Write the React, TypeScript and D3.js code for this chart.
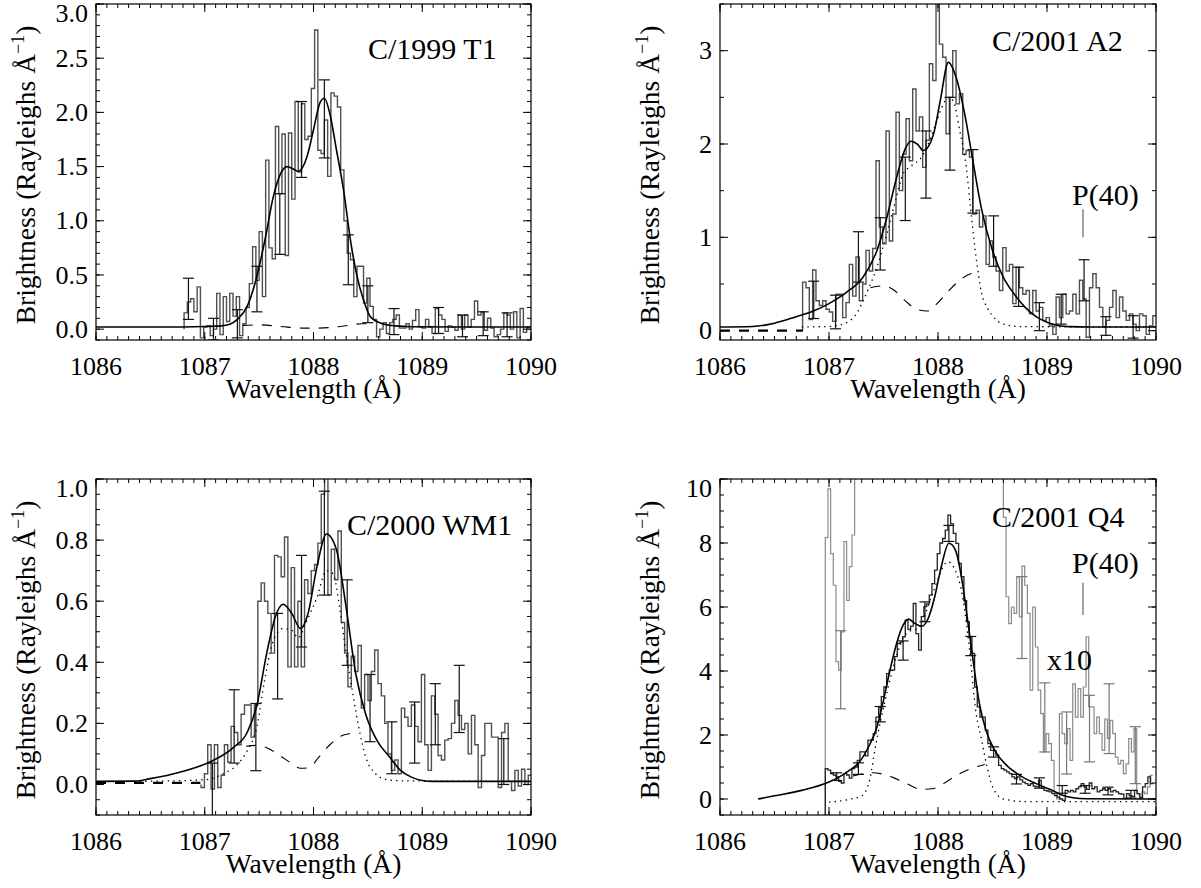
import React from "react";
import * as d3 from "d3";

const FONT = "Liberation Serif, Times New Roman, DejaVu Serif, serif";

// ---------- C/1999 T1 ----------
const t1Start = 1086.81;
const t1Bin = 0.03;
const t1Flux = [
  0.15, 0.25, 0.28, 0.16, 0.39, -0.08, 0.02, 0.03, -0.06, 0.0,
  0.33, -0.05, 0.3, 0.07, 0.33, 0.12, 0.3, -0.06, 0.05, 0.2,
  0.42, 0.76, 0.45, 0.9, 0.3, 1.56, 0.75, 0.65, 1.87, 1.25,
  1.8, 0.68, 1.81, 1.2, 2.1, 1.45, 2.08, 1.75, 1.78, 2.22,
  2.76, 1.65, 1.62, 1.93, 1.41, 2.18, 2.15, 2.05, 1.47, 1.0,
  0.7, 0.64, 0.3, 0.58, 0.58, 0.24, 0.47, 0.21, 0.09, -0.07,
  0.0, 0.06, -0.04, 0.06, 0.09, 0.13, 0.01, 0.01, 0.05, 0.0,
  0.08, 0.18, 0.02, 0.01, 0.09, 0.02, -0.04, 0.19, 0.13, 0.09,
  -0.02, 0.03, 0.02, -0.01, 0.13, 0.0, 0.13, 0.02, 0.09, 0.26,
  0.13, 0.16, -0.01, 0.1, 0.01, -0.07, -0.05, 0.0, 0.15, 0.13,
  0.0, 0.16, -0.08, 0.19, -0.03, 0.02,
];
const t1FitX = [1086.0, 1086.6, 1087.0, 1087.15, 1087.23, 1087.3, 1087.39, 1087.48, 1087.56, 1087.63, 1087.7, 1087.754, 1087.81, 1087.86, 1087.94, 1088.0, 1088.06, 1088.1, 1088.15, 1088.21, 1088.28, 1088.34, 1088.4, 1088.46, 1088.52, 1088.62, 1088.75, 1088.9, 1089.3, 1090.0];
const t1FitY = [0.02, 0.02, 0.025, 0.03, 0.045, 0.09, 0.21, 0.49, 0.855, 1.22, 1.44, 1.5, 1.48, 1.455, 1.59, 1.84, 2.09, 2.13, 1.99, 1.66, 1.26, 0.82, 0.49, 0.27, 0.12, 0.055, 0.03, 0.022, 0.02, 0.02];
const t1DashX = [1087.35, 1087.5, 1087.7, 1087.9, 1088.05, 1088.25, 1088.45, 1088.55];
const t1DashY = [0.035, 0.04, 0.025, 0.01, 0.01, 0.025, 0.05, 0.05];
const t1ErrX = [1086.85, 1087.08, 1087.3, 1087.48, 1087.69, 1087.89, 1088.1, 1088.32, 1088.5, 1088.74, 1089.15, 1089.37, 1089.56, 1089.78];
const t1ErrY = [0.28, 0.0, 0.05, 0.37, 0.97, 1.75, 1.94, 0.64, 0.23, 0.07, 0.08, 0.03, 0.05, 0.04];
const t1ErrE = [0.19, 0.1, 0.13, 0.21, 0.28, 0.35, 0.36, 0.23, 0.17, 0.12, 0.12, 0.1, 0.11, 0.11];

// ---------- C/2001 A2 ----------
const a2Start = 1086.758;
const a2Bin = 0.0306;
const a2Flux = [
  0.52, 0.46, 0.12, 0.65, 0.32, 0.27, 0.32, 0.23, 0.2, 0.1,
  0.39, 0.39, 0.14, 0.3, 0.71, 0.37, 0.79, 0.32, 0.5, 0.86,
  0.64, 0.88, 1.82, 1.11, 0.93, 2.14, 0.96, 1.25, 2.34, 1.5,
  1.89, 2.27, 1.82, 2.59, 2.14, 2.29, 1.75, 2.04, 2.86, 2.68,
  3.6, 3.07, 2.93, 2.11, 2.5, 3.0, 2.43, 2.54, 1.89, 1.93,
  1.86, 1.25, 1.29, 1.11, 1.23, 0.71, 0.96, 0.79, 0.64, 0.43,
  0.89, 0.64, 0.71, 0.29, 0.68, 0.46, 0.39, 0.43, 0.18, 0.43,
  0.21, 0.25, 0.11, 0.14, 0.05, -0.04, 0.36, 0.14, 0.39, 0.18,
  0.21, 0.39, 0.18, 0.54, 0.34, -0.07, 0.46, 0.61, 0.46, 0.25,
  0.04, 0.11, 0.25, 0.43, 0.14, 0.36, 0.21, 0.11, 0.18, 0.07,
  0.0, 0.18, 0.16, -0.04, 0.05, 0.16,
];
const a2FitX = [1086.0, 1086.3, 1086.5, 1086.7, 1086.856, 1087.0, 1087.16, 1087.31, 1087.44, 1087.53, 1087.62, 1087.7, 1087.75, 1087.81, 1087.865, 1087.96, 1088.02, 1088.095, 1088.17, 1088.25, 1088.32, 1088.4, 1088.5, 1088.6, 1088.7, 1088.8, 1088.9, 1089.0, 1089.1, 1089.2, 1089.4, 1090.0];
const a2FitY = [0.04, 0.045, 0.08, 0.15, 0.21, 0.29, 0.41, 0.57, 0.86, 1.21, 1.64, 1.95, 2.03, 2.0, 1.93, 2.11, 2.46, 2.875, 2.7, 2.29, 1.82, 1.3, 0.86, 0.57, 0.39, 0.25, 0.15, 0.09, 0.055, 0.043, 0.04, 0.04];
const a2DotX = [1086.75, 1087.0, 1087.15, 1087.25, 1087.34, 1087.44, 1087.53, 1087.61, 1087.68, 1087.76, 1087.85, 1087.91, 1087.99, 1088.05, 1088.095, 1088.14, 1088.2, 1088.26, 1088.3, 1088.35, 1088.4, 1088.45, 1088.5, 1088.6, 1088.78, 1090.0];
const a2DotY = [0.04, 0.045, 0.08, 0.18, 0.39, 0.68, 1.04, 1.39, 1.68, 1.77, 1.86, 2.0, 2.25, 2.43, 2.5, 2.46, 2.14, 1.75, 1.3, 0.78, 0.4, 0.25, 0.16, 0.07, 0.043, 0.04];
const a2DashX = [1087.38, 1087.5, 1087.6, 1087.7, 1087.8, 1087.9, 1088.0, 1088.1, 1088.2, 1088.3, 1088.36];
const a2DashY = [0.46, 0.48, 0.43, 0.32, 0.23, 0.21, 0.3, 0.43, 0.54, 0.61, 0.62];
const a2BaseX = [1086.0, 1086.76];
const a2BaseY = [0.0, 0.0];
const a2ErrX = [1086.86, 1087.06, 1087.27, 1087.47, 1087.7, 1087.89, 1088.11, 1088.32, 1088.51, 1088.74, 1088.93, 1089.13, 1089.34, 1089.54, 1089.79];
const a2ErrY = [0.33, 0.2, 0.79, 0.93, 1.52, 1.78, 2.11, 1.6, 0.96, 0.47, 0.15, 0.23, 0.54, 0.05, 0.04];
const a2ErrE = [0.2, 0.18, 0.27, 0.28, 0.34, 0.36, 0.39, 0.34, 0.27, 0.21, 0.15, 0.16, 0.22, 0.1, 0.12];

// ---------- C/2000 WM1 ----------
const wmStart = 1086.966;
const wmBin = 0.0307;
const wmFlux = [
  -0.01, 0.035, 0.13, -0.015, 0.13, -0.01, 0.03, 0.13, 0.073, 0.19,
  0.17, 0.13, 0.23, 0.26, 0.26, 0.155, 0.26, 0.6, 0.66, 0.6,
  0.56, 0.43, 0.75, 0.745, 0.68, 0.81, 0.385, 0.71, 0.385, 0.6,
  0.385, 0.67, 0.625, 0.7, 0.72, 0.79, 0.95, 1.05, 0.62, 0.77,
  0.67, 0.83, 0.53, 0.43, 0.32, 0.42, 0.37, 0.455, 0.25, 0.36,
  0.275, 0.37, 0.44, 0.33, 0.29, 0.2, 0.1, 0.046, 0.08, 0.035,
  0.25, 0.22, 0.19, 0.26, 0.19, 0.14, 0.36, 0.13, 0.046, 0.29,
  0.23, 0.095, 0.08, 0.145, 0.15, 0.2, 0.275, 0.226, 0.18, 0.2,
  0.1, 0.226, 0.13, -0.01, 0.095, 0.2, 0.2, 0.155, 0.155, -0.01,
  0.17, 0.2, 0.01, -0.02, 0.046, -0.005, 0.05, 0.0, 0.03,
];
const wmFitX = [1086.0, 1086.36, 1086.5, 1086.77, 1087.08, 1087.26, 1087.39, 1087.48, 1087.57, 1087.65, 1087.72, 1087.8, 1087.88, 1087.95, 1088.03, 1088.12, 1088.21, 1088.3, 1088.39, 1088.48, 1088.59, 1088.7, 1088.8, 1088.9, 1089.0, 1089.1, 1090.0];
const wmFitY = [0.01, 0.011, 0.019, 0.04, 0.079, 0.12, 0.17, 0.26, 0.43, 0.55, 0.59, 0.56, 0.51, 0.56, 0.71, 0.82, 0.77, 0.58, 0.36, 0.23, 0.14, 0.09, 0.046, 0.024, 0.013, 0.01, 0.01];
const wmDotX = [1086.35, 1087.0, 1087.17, 1087.29, 1087.39, 1087.48, 1087.55, 1087.63, 1087.72, 1087.8, 1087.86, 1087.93, 1088.03, 1088.12, 1088.18, 1088.24, 1088.3, 1088.36, 1088.42, 1088.48, 1088.57, 1088.65, 1088.8, 1090.0];
const wmDotY = [0.01, 0.015, 0.035, 0.062, 0.11, 0.19, 0.34, 0.47, 0.51, 0.505, 0.48, 0.53, 0.61, 0.7, 0.69, 0.58, 0.43, 0.3, 0.18, 0.09, 0.035, 0.018, 0.012, 0.01];
const wmDashX = [1087.38, 1087.47, 1087.57, 1087.69, 1087.78, 1087.88, 1087.96, 1088.05, 1088.15, 1088.25, 1088.33, 1088.4];
const wmDashY = [0.125, 0.128, 0.12, 0.095, 0.073, 0.053, 0.055, 0.09, 0.13, 0.158, 0.166, 0.168];
const wmBaseX = [1086.0, 1086.96];
const wmBaseY = [0.005, 0.005];
const wmErrX = [1087.07, 1087.27, 1087.47, 1087.67, 1087.89, 1088.1, 1088.31, 1088.52, 1088.72, 1088.93, 1089.12, 1089.34, 1089.75];
const wmErrY = [-0.03, 0.19, 0.155, 0.42, 0.6, 0.79, 0.53, 0.25, 0.12, 0.17, 0.23, 0.28, 0.075];
const wmErrE = [0.1, 0.12, 0.11, 0.14, 0.15, 0.17, 0.14, 0.11, 0.085, 0.1, 0.1, 0.11, 0.075];

// ---------- C/2001 Q4 ----------
const q4Start = 1086.966;
const q4Bin = 0.02446;
const q4Flux = [
  0.95, 0.9, 0.79, 0.75, 0.69, 0.55, 0.5, 0.79, 0.75, 0.65,
  0.95, 1.0, 1.21, 1.47, 1.47, 1.35, 1.84, 1.84, 2.04, 2.56,
  2.88, 3.2, 3.5, 3.92, 4.03, 4.03, 4.45, 4.86, 4.9, 5.07,
  5.59, 5.3, 5.4, 6.11, 5.17, 4.65, 5.7, 6.01, 6.1, 6.37,
  6.73, 7.15, 7.67, 8.0, 8.14, 8.4, 8.87, 8.6, 8.3, 7.99,
  7.36, 6.95, 6.2, 5.54, 5.07, 4.55, 3.5,
  2.88, 2.56, 2.56, 2.15, 1.73, 1.52, 1.52, 1.37, 1.05, 0.95,
  0.9, 0.85, 0.79, 0.69, 0.64, 0.69, 0.6, 0.53, 0.48, 0.43,
  0.48, 0.4, 0.38, 0.58, 0.33, 0.27, 0.25, 0.22, 0.17, 0.11,
  0.06, 0.0, -0.04, 0.27, 0.22, 0.27, 0.22, 0.32, 0.38, 0.48,
  0.38, 0.3, 0.5, 0.32, 0.38, 0.22, 0.27, 0.32, 0.27, 0.32,
  0.22, 0.27, 0.22, 0.17, 0.15, 0.01, 0.17, 0.1, 0.08, 0.27,
  0.17, 0.05, 0.38, 0.48, 0.69, 0.48,
];
// the x10 trace, left and right of the off-scale core
const q4x10LeftStart = 1086.966;
const q4x10Left = [8.17, 9.69, 7.67, 6.68, 4.29, 4.03, 5.22, 8.04, 6.21, 7.26, 8.25];
const q4x10RightStart = 1088.6;
const q4x10Right = [
  8.8, 6.32, 5.48, 6.0, 5.8, 6.94, 5.69, 7.28, 6.68, 5.8,
  3.4, 6.0, 4.75, 3.4, 2.67, 1.47, 2.04, 1.73, 1.21, 0.17,
  0.0, 2.67, 2.04, 1.73, 2.2, 1.21, 3.6, 2.56, 3.45, 2.56,
  3.5, 5.07, 2.88, 2.88, 2.04, 2.56, 2.04, 1.52, 2.5, 1.89,
  2.46, 2.04, 1.31, 1.1, 1.21, 0.79, 1.1, 1.89, 1.47, 2.2,
  0.17, 0.0, 0.22, 0.17, 0.38, 0.74,
];
const q4x10ErrX = [1087.107, 1088.77, 1088.98, 1089.18, 1089.39, 1089.57, 1089.81];
const q4x10ErrY = [4.04, 5.67, 2.55, 1.75, 2.2, 2.51, 1.37];
const q4x10ErrE = [1.22, 1.28, 1.08, 0.97, 1.04, 1.09, 0.89];
const q4FitX = [1086.35, 1086.5, 1086.75, 1087.0, 1087.1, 1087.19, 1087.28, 1087.37, 1087.44, 1087.5, 1087.56, 1087.62, 1087.68, 1087.73, 1087.79, 1087.85, 1087.91, 1087.97, 1088.03, 1088.1, 1088.16, 1088.22, 1088.28, 1088.33, 1088.38, 1088.44, 1088.52, 1088.63, 1088.75, 1088.9, 1089.06, 1089.15, 1089.24, 1089.36, 1090.0];
const q4FitY = [0.0, 0.1, 0.27, 0.53, 0.7, 0.9, 1.16, 1.68, 2.25, 3.09, 4.03, 4.86, 5.43, 5.62, 5.48, 5.4, 5.64, 6.32, 7.26, 7.99, 7.78, 6.84, 5.38, 4.13, 2.98, 2.15, 1.52, 1.05, 0.74, 0.48, 0.25, 0.11, 0.04, 0.01, 0.0];
const q4DotX = [1087.0, 1087.2, 1087.3, 1087.376, 1087.42, 1087.53, 1087.59, 1087.71, 1087.83, 1087.95, 1088.09, 1088.2, 1088.28, 1088.35, 1088.4, 1088.45, 1088.5, 1088.6, 1088.8, 1090.0];
const q4DotY = [-0.1, 0.0, 0.1, 0.64, 1.52, 3.3, 4.13, 5.17, 5.38, 6.42, 7.41, 6.74, 4.96, 2.67, 1.84, 1.0, 0.38, 0.0, -0.08, -0.08];
const q4DashX = [1087.22, 1087.3, 1087.4, 1087.55, 1087.7, 1087.85, 1087.95, 1088.05, 1088.15, 1088.3, 1088.43];
const q4DashY = [0.72, 0.78, 0.82, 0.72, 0.5, 0.3, 0.32, 0.48, 0.7, 0.95, 1.08];
const q4ErrX = [1087.07, 1087.27, 1087.47, 1087.68, 1087.88, 1088.1, 1088.3, 1088.51, 1088.72, 1088.93, 1089.14, 1089.35, 1089.56, 1089.77];
const q4ErrY = [0.7, 0.95, 2.65, 4.64, 5.85, 8.3, 4.78, 1.47, 0.62, 0.5, 0.3, 0.3, 0.25, 0.15];
const q4ErrE = [0.12, 0.18, 0.24, 0.3, 0.31, 0.25, 0.3, 0.16, 0.15, 0.16, 0.12, 0.12, 0.12, 0.12];

// P(40) line position
const p40Wave = 1089.33;

const xDomain = [1086, 1090];
const xLabels = [1086, 1087, 1088, 1089, 1090];

const zip = (xs, ys) => xs.map((v, i) => [v, ys[i]]);

function rangeStep(lo, hi, step) {
  const out = [];
  const a = Math.ceil(lo / step - 1e-6);
  const b = Math.floor(hi / step + 1e-6);
  for (let i = a; i <= b; i++) out.push(+(i * step).toFixed(6));
  return out;
}

function Panel(props) {
  const { id, box, yDom, yMajor, yMinor, fmt, children } = props;
  const x = d3.scaleLinear().domain(xDomain).range([box.l, box.r]);
  const y = d3.scaleLinear().domain(yDom).range([box.b, box.t]);
  const xMaj = rangeStep(1086, 1090, 1);
  const xMin = rangeStep(1086, 1090, 0.1);
  const yMaj = rangeStep(yDom[0], yDom[1], yMajor);
  const yMin = rangeStep(yDom[0], yDom[1], yMinor);
  const maj = 8;
  const mnr = 4;
  const cy = (box.t + box.b) / 2;
  return (
    <g>
      <defs>
        <clipPath id={`clip-${id}`}>
          <rect x={box.l} y={box.t} width={box.r - box.l} height={box.b - box.t} />
        </clipPath>
      </defs>
      <g clipPath={`url(#clip-${id})`}>{children(x, y)}</g>
      <rect x={box.l} y={box.t} width={box.r - box.l} height={box.b - box.t} fill="none" stroke="#000" strokeWidth={1.2} />
      <g stroke="#000" strokeWidth={1}>
        {xMin.map((v) => (
          <g key={`xm${v}`}>
            <line x1={x(v)} x2={x(v)} y1={box.b} y2={box.b - mnr} />
            <line x1={x(v)} x2={x(v)} y1={box.t} y2={box.t + mnr} />
          </g>
        ))}
        {xMaj.map((v) => (
          <g key={`xM${v}`}>
            <line x1={x(v)} x2={x(v)} y1={box.b} y2={box.b - maj} />
            <line x1={x(v)} x2={x(v)} y1={box.t} y2={box.t + maj} />
          </g>
        ))}
        {yMin.map((v) => (
          <g key={`ym${v}`}>
            <line x1={box.l} x2={box.l + mnr} y1={y(v)} y2={y(v)} />
            <line x1={box.r} x2={box.r - mnr} y1={y(v)} y2={y(v)} />
          </g>
        ))}
        {yMaj.map((v) => (
          <g key={`yM${v}`}>
            <line x1={box.l} x2={box.l + maj} y1={y(v)} y2={y(v)} />
            <line x1={box.r} x2={box.r - maj} y1={y(v)} y2={y(v)} />
          </g>
        ))}
      </g>
      <g style={{ fontFamily: FONT }} fontSize={26} fill="#000">
        {xLabels.map((v) => (
          <text key={`xl${v}`} x={x(v)} y={box.b + 35} textAnchor="middle">
            {v}
          </text>
        ))}
        {yMaj.map((v) => (
          <text
            key={`yl${v}`}
            x={box.l - 8}
            y={Math.max(y(v), box.t + 9)}
            dy="0.33em"
            textAnchor="end"
          >
            {fmt(v)}
          </text>
        ))}
        <text x={(box.l + box.r) / 2} y={box.b + 58} textAnchor="middle" fontSize={27.5}>
          Wavelength (Å)
        </text>
        <text transform={`translate(${box.l - 61},${cy + 3}) rotate(-90)`} textAnchor="middle" fontSize={27.5}>
          Brightness (Rayleighs Å
          <tspan dy={-11} fontSize={18}>−1</tspan>
          <tspan dy={11}>)</tspan>
        </text>
      </g>
    </g>
  );
}

function stepPath(x, y, start, bin, vals, lead, tail) {
  const pts = vals.map((v, i) => [start + i * bin, v]);
  const end = start + vals.length * bin;
  pts.push([end, vals[vals.length - 1]]);
  if (lead !== undefined) pts.unshift([start, lead]);
  if (tail !== undefined) pts.push([end, tail]);
  return d3
    .line()
    .x((d) => x(d[0]))
    .y((d) => y(d[1]))
    .curve(d3.curveStepAfter)(pts);
}

function smooth(x, y, xs, ys) {
  return d3
    .line()
    .x((d) => x(d[0]))
    .y((d) => y(d[1]))
    .curve(d3.curveMonotoneX)(zip(xs, ys));
}

function ErrorBars({ x, y, xs, ys, es, color }) {
  return (
    <g stroke={color} strokeWidth={1.2}>
      {xs.map((v, i) => {
        const px = x(v);
        const lo = y(ys[i] - es[i]);
        const hi = y(ys[i] + es[i]);
        return (
          <g key={i}>
            <line x1={px} x2={px} y1={lo} y2={hi} />
            <line x1={px - 5.5} x2={px + 5.5} y1={lo} y2={lo} />
            <line x1={px - 5.5} x2={px + 5.5} y1={hi} y2={hi} />
          </g>
        );
      })}
    </g>
  );
}

const HIST = "#505050";
const DOT = "1.4 4.2";
const DASH = "10 9";

export default function App() {
  const f1 = d3.format(".1f");
  const f0 = d3.format("d");
  return (
    <svg
      width={1201}
      height={888}
      style={{ position: "absolute", left: 0, top: 0, background: "#fff" }}
    >
      <rect width={1201} height={888} fill="#fff" />
      <Panel id="t1" box={{ l: 96, r: 531, t: 4, b: 340 }} yDom={[-0.1, 3.0]} yMajor={0.5} yMinor={0.1} fmt={f1}>
        {(x, y) => (
          <g fill="none">
            <path d={stepPath(x, y, t1Start, t1Bin, t1Flux, 0)} stroke={HIST} strokeWidth={1.4} />
            <ErrorBars x={x} y={y} xs={t1ErrX} ys={t1ErrY} es={t1ErrE} color="#111" />
            <path d={smooth(x, y, t1DashX, t1DashY)} stroke="#000" strokeWidth={1.1} strokeDasharray={DASH} />
            <path d={smooth(x, y, t1FitX, t1FitY)} stroke="#000" strokeWidth={1.6} />
          </g>
        )}
      </Panel>
      <Panel id="a2" box={{ l: 720, r: 1156, t: 4, b: 340 }} yDom={[-0.1, 3.5]} yMajor={1} yMinor={0.5} fmt={f0}>
        {(x, y) => (
          <g fill="none">
            <path d={stepPath(x, y, a2Start, a2Bin, a2Flux, 0)} stroke={HIST} strokeWidth={1.4} />
            <ErrorBars x={x} y={y} xs={a2ErrX} ys={a2ErrY} es={a2ErrE} color="#111" />
            <path d={smooth(x, y, a2BaseX, a2BaseY)} stroke="#000" strokeWidth={2.2} strokeDasharray={DASH} />
            <path d={smooth(x, y, a2DotX, a2DotY)} stroke="#000" strokeWidth={1.3} strokeDasharray={DOT} />
            <path d={smooth(x, y, a2DashX, a2DashY)} stroke="#000" strokeWidth={1.1} strokeDasharray={DASH} />
            <path d={smooth(x, y, a2FitX, a2FitY)} stroke="#000" strokeWidth={1.6} />
            <line x1={x(p40Wave)} x2={x(p40Wave)} y1={y(1.0)} y2={y(1.3)} stroke="#666" strokeWidth={1.2} />
          </g>
        )}
      </Panel>
      <Panel id="wm" box={{ l: 96, r: 531, t: 479, b: 815 }} yDom={[-0.1, 1.0]} yMajor={0.2} yMinor={0.05} fmt={f1}>
        {(x, y) => (
          <g fill="none">
            <path d={stepPath(x, y, wmStart, wmBin, wmFlux, 0)} stroke={HIST} strokeWidth={1.4} />
            <ErrorBars x={x} y={y} xs={wmErrX} ys={wmErrY} es={wmErrE} color="#111" />
            <path d={smooth(x, y, wmBaseX, wmBaseY)} stroke="#000" strokeWidth={2.2} strokeDasharray={DASH} />
            <path d={smooth(x, y, wmDotX, wmDotY)} stroke="#000" strokeWidth={1.3} strokeDasharray={DOT} />
            <path d={smooth(x, y, wmDashX, wmDashY)} stroke="#000" strokeWidth={1.1} strokeDasharray={DASH} />
            <path d={smooth(x, y, wmFitX, wmFitY)} stroke="#000" strokeWidth={1.6} />
          </g>
        )}
      </Panel>
      <Panel id="q4" box={{ l: 720, r: 1156, t: 479, b: 815 }} yDom={[-0.5, 10]} yMajor={2} yMinor={0.5} fmt={f0}>
        {(x, y) => (
          <g fill="none">
            <path d={stepPath(x, y, q4x10LeftStart, q4Bin, q4x10Left, -0.5, 10.5)} stroke="#8a8a8a" strokeWidth={1.2} />
            <path d={stepPath(x, y, q4x10RightStart, q4Bin, q4x10Right, 10.5)} stroke="#8a8a8a" strokeWidth={1.2} />
            <ErrorBars x={x} y={y} xs={q4x10ErrX} ys={q4x10ErrY} es={q4x10ErrE} color="#777" />
            <path d={stepPath(x, y, q4Start, q4Bin, q4Flux, -0.5)} stroke="#222" strokeWidth={1.3} />
            <ErrorBars x={x} y={y} xs={q4ErrX} ys={q4ErrY} es={q4ErrE} color="#111" />
            <path d={smooth(x, y, q4DotX, q4DotY)} stroke="#000" strokeWidth={1.3} strokeDasharray={DOT} />
            <path d={smooth(x, y, q4DashX, q4DashY)} stroke="#000" strokeWidth={1.1} strokeDasharray={DASH} />
            <path d={smooth(x, y, q4FitX, q4FitY)} stroke="#000" strokeWidth={1.6} />
            <line x1={x(p40Wave)} x2={x(p40Wave)} y1={y(5.75)} y2={y(6.76)} stroke="#666" strokeWidth={1.2} />
          </g>
        )}
      </Panel>
      <g style={{ fontFamily: FONT }} fontSize={30} fill="#000">
        <text x={368} y={59}>C/1999 T1</text>
        <text x={992} y={51}>C/2001 A2</text>
        <text x={1072} y={205}>P(40)</text>
        <text x={347} y={535}>C/2000 WM1</text>
        <text x={992} y={527}>C/2001 Q4</text>
        <text x={1072} y={573}>P(40)</text>
        <text x={1047} y={670}>x10</text>
      </g>
    </svg>
  );
}
